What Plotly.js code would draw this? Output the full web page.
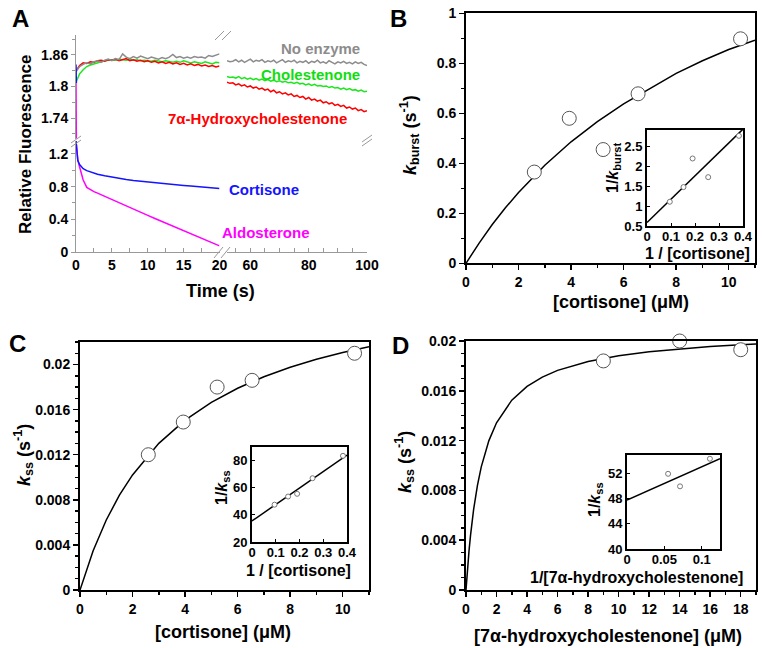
<!DOCTYPE html>
<html><head><meta charset="utf-8">
<script src="https://cdn.plot.ly/plotly-3.0.1.min.js"></script>
<style>html,body{margin:0;padding:0;background:#fff}#chart{width:764px;height:648px}</style>
</head><body><div id="chart"></div>
<script>
// ---------- Panel A data ----------
const tLeft = [0,0.5,1,1.5,2,2.5,3,3.5,4,4.5,5,5.5,6,6.5,7,7.5,8,8.5,9,9.5,10,10.5,11,11.5,12,12.5,13,13.5,14,14.5,15,15.5,16,16.5,17,17.5,18,18.5,19,19.5,20];
const noEnzL = [1.828,1.838,1.842,1.845,1.843,1.847,1.849,1.846,1.850,1.852,1.849,1.853,1.851,1.862,1.856,1.853,1.857,1.854,1.858,1.855,1.853,1.856,1.854,1.852,1.855,1.853,1.856,1.861,1.855,1.857,1.854,1.856,1.854,1.857,1.855,1.856,1.854,1.859,1.857,1.859,1.862];
const cholL = [1.808,1.824,1.832,1.838,1.841,1.843,1.846,1.848,1.849,1.850,1.851,1.850,1.852,1.851,1.850,1.852,1.850,1.851,1.849,1.850,1.849,1.848,1.850,1.849,1.847,1.849,1.848,1.846,1.848,1.846,1.849,1.847,1.845,1.847,1.846,1.844,1.847,1.845,1.843,1.846,1.845];
const hydL = [1.830,1.840,1.845,1.844,1.847,1.846,1.849,1.850,1.848,1.851,1.850,1.852,1.849,1.851,1.853,1.849,1.851,1.848,1.850,1.847,1.849,1.846,1.848,1.845,1.847,1.844,1.846,1.843,1.845,1.842,1.844,1.841,1.843,1.840,1.842,1.839,1.841,1.838,1.840,1.837,1.839];
const tRight = [52,53,54,55,56,57,58,59,60,61,62,63,64,65,66,67,68,69,70,71,72,73,74,75,76,77,78,79,80,81,82,83,84,85,86,87,88,89,90,91,92,93,94,95,96,97,98,99,100];
const noEnzR = [1.849,1.847,1.848,1.851,1.847,1.850,1.846,1.849,1.852,1.847,1.850,1.848,1.851,1.846,1.849,1.847,1.850,1.845,1.848,1.851,1.846,1.849,1.847,1.850,1.845,1.848,1.846,1.849,1.844,1.848,1.846,1.850,1.845,1.847,1.844,1.849,1.846,1.843,1.847,1.845,1.848,1.844,1.846,1.843,1.847,1.844,1.846,1.842,1.840];
const cholR = [1.819,1.817,1.818,1.816,1.819,1.815,1.817,1.814,1.816,1.813,1.815,1.812,1.814,1.811,1.813,1.810,1.812,1.809,1.811,1.808,1.810,1.807,1.808,1.806,1.808,1.805,1.806,1.803,1.805,1.802,1.804,1.801,1.802,1.800,1.801,1.798,1.800,1.797,1.798,1.795,1.797,1.794,1.796,1.793,1.794,1.791,1.793,1.790,1.791];
const hydR = [1.808,1.806,1.807,1.803,1.805,1.801,1.803,1.799,1.801,1.797,1.799,1.795,1.797,1.793,1.795,1.790,1.793,1.788,1.790,1.786,1.788,1.784,1.786,1.781,1.783,1.779,1.781,1.776,1.779,1.774,1.776,1.772,1.774,1.769,1.771,1.767,1.769,1.764,1.766,1.762,1.764,1.759,1.761,1.757,1.759,1.754,1.756,1.752,1.754];
const tLow = [0,0.1,0.25,0.5,0.75,1,1.5,2,2.5,3,4,5,6,7,8,9,10,11,12,13,14,15,16,17,18,19,20];
const cortA = [1.36,1.2,1.12,1.07,1.04,1.02,0.995,0.98,0.965,0.952,0.932,0.915,0.9,0.888,0.876,0.866,0.856,0.847,0.838,0.83,0.822,0.814,0.806,0.8,0.793,0.785,0.776];
const aldoA = [1.36,1.22,1.13,1.04,0.95,0.88,0.79,0.76,0.738,0.72,0.68,0.64,0.6,0.562,0.524,0.486,0.448,0.41,0.372,0.334,0.296,0.258,0.222,0.186,0.15,0.112,0.075];
const tStart = [0,0.05];
const cortStart = [1.842,1.806];
const aldoStart = [1.806,1.69];

// ---------- Panel B data ----------
const cortConcB = [2.6,3.93,5.22,6.55,10.45];
const kBurst = [0.365,0.58,0.455,0.678,0.898];
const fitBx = [0,0.5,1,1.5,2,3,4,5,6,7,8,9,10,11];
const fitBy = [0,0.081,0.155,0.222,0.283,0.392,0.486,0.567,0.638,0.700,0.760,0.810,0.855,0.892];
const invCortB = [0.095,0.152,0.19,0.255,0.383];
const invKBurst = [1.11,1.48,2.2,1.73,2.77];
const lineBx = [0,0.4];
const lineBy = [0.59,2.94];

// ---------- Panel C data ----------
const cortConcC = [2.6,3.93,5.22,6.55,10.45];
const kssC = [0.0120,0.0149,0.0180,0.0186,0.0210];
const fitCx = [0,0.25,0.5,1,1.5,2,3,4,5,6,7,8,9,10,11];
const fitCy = [0,0.00185,0.00348,0.00621,0.00841,0.01021,0.01301,0.01507,0.01665,0.0179,0.01892,0.01976,0.02047,0.02107,0.02159];
const invCortC = [0.095,0.152,0.19,0.255,0.383];
const invKssC = [47.5,53.5,55.5,67,83.5];
const lineCx = [0,0.4];
const lineCy = [35.5,84];

// ---------- Panel D data ----------
const hydConcD = [9,14,18];
const kssD = [0.0184,0.0200,0.0193];
const fitDx = [0,0.05,0.1,0.2,0.3,0.5,0.75,1,1.5,2,3,4,5,6,8,10,12,14,16,18,19];
const fitDy = [0,0.000897,0.00172,0.00318,0.00443,0.00647,0.00841,0.00989,0.012,0.01343,0.01525,0.01636,0.0171,0.01764,0.01836,0.01882,0.01914,0.01938,0.01956,0.0197,0.01976];
const invHydD = [0.055,0.071,0.111];
const invKssD = [52,50,54.4];
const lineDx = [0,0.1245];
const lineDy = [47.8,54.4];

// ---------- helpers ----------
const W = 764, H = 648;
const px = x => x / W;
const py = y => 1 - y / H;
const FONT = 'Liberation Sans, Arial, Helvetica, sans-serif';

function mainAx(d, r, anchor, extra) {
  return Object.assign({
    domain: d, range: r, anchor: anchor, showline: true, linecolor: '#000', linewidth: 2,
    mirror: true, ticks: 'outside', ticklen: 5, tickwidth: 1.5, tickcolor: '#000',
    zeroline: false, showgrid: false, fixedrange: true,
    tickfont: {family: FONT, size: 14, color: '#000', weight: 'bold'}
  }, extra);
}
function insetAx(d, r, anchor, extra) {
  return Object.assign({
    domain: d, range: r, anchor: anchor, showline: true, linecolor: '#000', linewidth: 2,
    mirror: true, ticks: 'inside', ticklen: 3, tickwidth: 1, tickcolor: '#000',
    zeroline: false, showgrid: false, fixedrange: true,
    tickfont: {family: FONT, size: 13, color: '#000', weight: 'bold'}
  }, extra);
}
function grayAx(d, r, anchor, extra) {
  return Object.assign({
    domain: d, range: r, anchor: anchor, showline: true, linecolor: '#999', linewidth: 1,
    ticks: 'inside', ticklen: 4, tickwidth: 1, tickcolor: '#999',
    zeroline: false, showgrid: false, fixedrange: true,
    tickfont: {family: FONT, size: 14, color: '#000', weight: 'bold'}
  }, extra);
}

const line = (x, y, xa, ya, color, w) => ({x, y, xaxis: xa, yaxis: ya, type: 'scatter', mode: 'lines',
  line: {color, width: w || 1.5}, hoverinfo: 'skip', showlegend: false});
const pts = (x, y, xa, ya, size, lc) => ({x, y, xaxis: xa, yaxis: ya, type: 'scatter', mode: 'markers',
  marker: {symbol: 'circle', size, color: '#fff', line: {color: lc, width: 1}}, cliponaxis: false,
  hoverinfo: 'skip', showlegend: false});

const GRAY = '#8c8c8c', GREEN = '#1ee61e', RED = '#ff0000', BLUE = '#1414ff', MAG = '#ff00ff';

const traces = [
  line(tLeft, cholL, 'x', 'y2', GREEN),
  line(tLeft, hydL, 'x', 'y2', RED),
  line(tLeft, noEnzL, 'x', 'y2', GRAY),
  line(tRight, noEnzR, 'x2', 'y2', GRAY),
  line(tRight, cholR, 'x2', 'y2', GREEN),
  line(tRight, hydR, 'x2', 'y2', RED),
  line(tStart, aldoStart, 'x', 'y2', MAG),
  line(tStart, cortStart, 'x', 'y2', BLUE),
  line(tLow, aldoA, 'x', 'y', MAG),
  line(tLow, cortA, 'x', 'y', BLUE),
  line(fitBx, fitBy, 'x5', 'y5', '#000', 1.5),
  pts(cortConcB, kBurst, 'x5', 'y5', 14, '#555'),
  line(lineBx, lineBy, 'x6', 'y6', '#000', 1.5),
  pts(invCortB, invKBurst, 'x6', 'y6', 5, '#777'),
  line(fitCx, fitCy, 'x7', 'y7', '#000', 1.5),
  pts(cortConcC, kssC, 'x7', 'y7', 14, '#555'),
  line(lineCx, lineCy, 'x8', 'y8', '#000', 1.5),
  pts(invCortC, invKssC, 'x8', 'y8', 5, '#777'),
  line(fitDx, fitDy, 'x9', 'y9', '#000', 1.5),
  pts(hydConcD, kssD, 'x9', 'y9', 14, '#555'),
  line(lineDx, lineDy, 'x10', 'y10', '#000', 1.5),
  pts(invHydD, invKssD, 'x10', 'y10', 5, '#777')
];

const layout = {
  width: W, height: H, margin: {l: 0, r: 0, t: 0, b: 0},
  paper_bgcolor: '#fff', plot_bgcolor: 'rgba(0,0,0,0)', showlegend: false,
  font: {family: FONT, size: 14, color: '#000', weight: 'bold'},
  xaxis: grayAx([px(76), px(219.5)], [0, 20], 'y', {tickvals: [0,5,10,15,20], minor: {dtick: 2.5, ticks: 'inside', ticklen: 4, tickcolor: '#999'}}),
  xaxis2: grayAx([px(227), px(367)], [52, 100], 'y', {tickvals: [60,80,100], minor: {dtick: 5, tick0: 0, ticks: 'inside', ticklen: 4, tickcolor: '#999'}}),
  xaxis3: grayAx([px(76), px(219.5)], [0, 20], 'y2', {side: 'top', showticklabels: false, tickvals: [0,5,10,15,20], minor: {dtick: 2.5, ticks: 'inside', ticklen: 4, tickcolor: '#999'}}),
  xaxis4: grayAx([px(227), px(367)], [52, 100], 'y2', {side: 'top', showticklabels: false, tickvals: [60,80,100], minor: {dtick: 5, tick0: 0, ticks: 'inside', ticklen: 4, tickcolor: '#999'}}),
  yaxis: grayAx([py(252), py(141)], [0, 1.358], 'x', {tickvals: [0,0.4,0.8,1.2], ticktext: ['0','0.4','0.8','1.2'], ticks: 'outside', minor: {dtick: 0.2, ticks: 'outside', ticklen: 3, tickcolor: '#999'}}),
  yaxis2: grayAx([py(138.5), py(35)], [1.701, 1.898], 'x', {tickvals: [1.74,1.8,1.86], ticktext: ['1.74','1.8','1.86'], ticks: 'outside', minor: {dtick: 0.03, tick0: 1.74, ticks: 'outside', ticklen: 3, tickcolor: '#999'}}),
  yaxis3: grayAx([py(252), py(141)], [0, 1.358], 'x2', {side: 'right', showticklabels: false, tickvals: [0,0.4,0.8,1.2], minor: {dtick: 0.2, ticks: 'inside', ticklen: 3, tickcolor: '#999'}}),
  yaxis4: grayAx([py(138.5), py(35)], [1.701, 1.898], 'x2', {side: 'right', showticklabels: false, tickvals: [1.74,1.8,1.86], minor: {dtick: 0.03, tick0: 1.74, ticks: 'inside', ticklen: 3, tickcolor: '#999'}}),
  xaxis5: mainAx([px(466), px(755)], [0, 11], 'y5', {dtick: 2, minor: {dtick: 1, ticks: 'outside', ticklen: 3, tickcolor: '#000'}}),
  yaxis5: mainAx([py(263.3), py(13.3)], [0, 1], 'x5', {dtick: 0.2, minor: {dtick: 0.1, ticks: 'outside', ticklen: 3, tickcolor: '#000'}}),
  xaxis6: insetAx([px(647), px(743)], [0, 0.4], 'y6', {dtick: 0.1, ticklabelstandoff: -3}),
  yaxis6: insetAx([py(226), py(129.5)], [0.5, 2.93], 'x6', {dtick: 0.5, tick0: 0.5}),
  xaxis7: mainAx([px(80), px(369)], [0, 11], 'y7', {dtick: 2, minor: {dtick: 1, ticks: 'outside', ticklen: 3, tickcolor: '#000'}}),
  yaxis7: mainAx([py(590), py(342)], [0, 0.022], 'x7', {dtick: 0.004, minor: {dtick: 0.001, ticks: 'outside', ticklen: 3, tickcolor: '#000'}}),
  xaxis8: insetAx([px(252), px(347)], [0, 0.4], 'y8', {dtick: 0.1, ticklabelstandoff: -3}),
  yaxis8: insetAx([py(542), py(447)], [20, 90], 'x8', {dtick: 20}),
  xaxis9: mainAx([px(466), px(756)], [0, 19], 'y9', {dtick: 2, minor: {dtick: 1, ticks: 'outside', ticklen: 3, tickcolor: '#000'}}),
  yaxis9: mainAx([py(590), py(341)], [0, 0.02], 'x9', {dtick: 0.004, minor: {dtick: 0.001, ticks: 'outside', ticklen: 3, tickcolor: '#000'}}),
  xaxis10: insetAx([px(627), px(720)], [0, 0.1245], 'y10', {dtick: 0.05, ticklabelstandoff: -3}),
  yaxis10: insetAx([py(549), py(455)], [40, 55], 'x10', {dtick: 4, tick0: 40}),
  annotations: [],
  shapes: []
};

function ann(text, x, y, size, opts) {
  layout.annotations.push(Object.assign({text, x: px(x), y: py(y), xref: 'paper', yref: 'paper',
    showarrow: false, font: {family: FONT, size, color: '#000', weight: 'bold'},
    xanchor: 'center', yanchor: 'middle'}, opts || {}));
}
ann('A', 20, 18, 24); ann('B', 399, 18, 24); ann('C', 17, 343, 24); ann('D', 400, 345, 24);
ann('Relative Fluorescence', 25, 144, 17, {textangle: -90});
ann('Time (s)', 220, 291, 18);
ann('No enzyme', 362, 48, 15, {xanchor: 'right', font: {family: FONT, size: 15, color: GRAY, weight: 'bold'}});
ann('Cholestenone', 362, 75, 15, {xanchor: 'right', font: {family: FONT, size: 15, color: '#10dd10', weight: 'bold'}});
ann('7α-Hydroxycholestenone', 257, 118, 15, {font: {family: FONT, size: 15, color: RED, weight: 'bold'}});
ann('Cortisone', 264, 189, 15, {font: {family: FONT, size: 15, color: BLUE, weight: 'bold'}});
ann('Aldosterone', 266, 233, 15, {font: {family: FONT, size: 15, color: MAG, weight: 'bold'}});
ann('<i>k</i><sub>burst</sub> (s<sup>-1</sup>)', 409, 135, 18, {textangle: -90});
ann('[cortisone] (μM)', 621, 302, 18);
ann('1/<i>k</i><sub>burst</sub>', 613, 168, 16, {textangle: -90});
ann('1 / [cortisone]', 697, 253, 16);
ann('<i>k</i><sub>ss</sub> (s<sup>-1</sup>)', 23, 455, 18, {textangle: -90});
ann('[cortisone] (μM)', 223, 632, 18);
ann('1/<i>k</i><sub>ss</sub>', 222, 488, 16, {textangle: -90});
ann('1 / [cortisone]', 298, 570, 16);
ann('<i>k</i><sub>ss</sub> (s<sup>-1</sup>)', 405, 462, 18, {textangle: -90});
ann('[7α-hydroxycholestenone] (μM)', 608, 636, 18);
ann('1/<i>k</i><sub>ss</sub>', 595, 500, 16, {textangle: -90});
ann('1/[7α-hydroxycholestenone]', 636, 577, 16);

function brk(x0, y0, x1, y1) {
  layout.shapes.push({type: 'line', xref: 'paper', yref: 'paper', x0: px(x0), y0: py(y0), x1: px(x1), y1: py(y1),
    line: {color: '#999', width: 1}});
}
brk(215, 40, 224, 31); brk(222, 40, 231, 31);
brk(214, 258, 223, 247); brk(221, 258, 230, 247);
brk(71, 143, 81, 136); brk(71, 147, 81, 140);
brk(362, 142, 372, 135); brk(362, 146, 372, 139);

Plotly.newPlot('chart', traces, layout, {staticPlot: true, displayModeBar: false});
</script></body></html>
